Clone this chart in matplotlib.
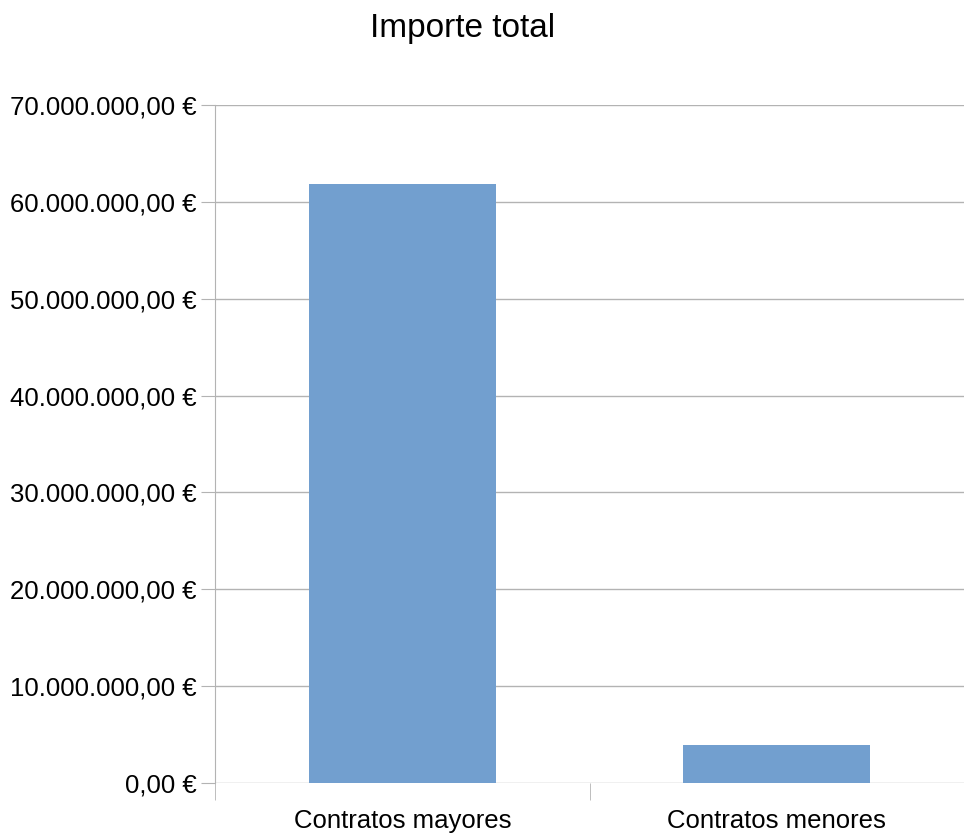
import matplotlib
matplotlib.use("Agg")
import matplotlib.pyplot as plt
from matplotlib.ticker import FuncFormatter, FixedLocator

categories = ["Contratos mayores", "Contratos menores"]
values = [61840000, 3920000]
yticks = [0, 10e6, 20e6, 30e6, 40e6, 50e6, 60e6, 70e6]

plt.rcParams['font.family'] = ['Liberation Sans', 'DejaVu Sans']

fig = plt.figure(figsize=(9.64, 8.35), dpi=100)
ax = fig.add_axes([215/964, 1-783/835, 1-215/964, (783-105)/835])

x = list(range(len(categories)))
ax.bar(x, values, width=0.5, color="#729fcf", zorder=3)
ax.set_xlim(-0.5, -0.5 + 749/380)
ax.set_ylim(0, 70e6)

def fmt(v, pos):
    s = f"{v:,.2f}"
    s = s.replace(",", "X").replace(".", ",").replace("X", ".")
    return s + " €"

ax.yaxis.set_major_locator(FixedLocator(yticks))
ax.yaxis.set_major_formatter(FuncFormatter(fmt))
ax.grid(axis='y', color="#b3b3b3", linewidth=1, zorder=0)
ax.tick_params(axis='y', length=10, color="#b3b3b3", labelsize=18.5, pad=3)

ax.set_xticks(x)
ax.set_xticklabels(categories)
ax.set_xticks([-0.5, 0.5, 1.5], minor=True)
ax.tick_params(axis='x', which='major', length=0, labelsize=18.5, pad=19)
ax.tick_params(axis='x', which='minor', length=12, color="#b3b3b3")

for side in ['top', 'right', 'bottom']:
    ax.spines[side].set_visible(False)
ax.spines['left'].set_color("#b3b3b3")

fig.text(463/964, 1-29/835, "Importe total", ha='center', va='center', fontsize=24)

fig.savefig("out.png", dpi=100)
